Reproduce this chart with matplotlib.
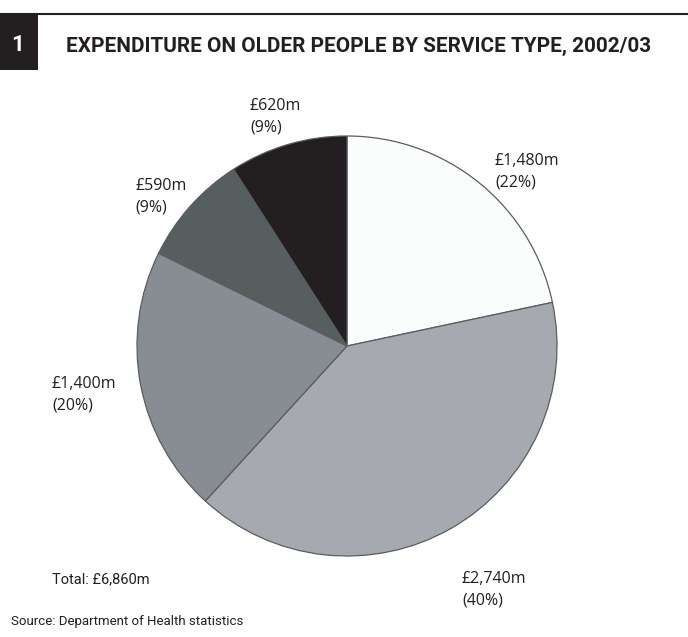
import matplotlib
matplotlib.use("Agg")
import matplotlib.pyplot as plt
from matplotlib.patches import Rectangle
from matplotlib.lines import Line2D

# Expenditure by service type, 2002/03 (£m)
amounts = [1480, 2740, 1400, 590, 620]
shares = ["22%", "40%", "20%", "9%", "9%"]
amount_labels = ["£1,480m", "£2,740m", "£1,400m", "£590m", "£620m"]
colors = ["#fbfcfc", "#a6a9b0", "#878d93", "#565e60", "#231f20"]

title = "EXPENDITURE ON OLDER PEOPLE BY SERVICE TYPE, 2002/03"
total_label = "Total: £6,860m"
source = "Source: Department of Health statistics"

W, H = 688, 637
fig = plt.figure(figsize=(W / 100, H / 100), dpi=100)
fig.patch.set_facecolor("white")
renderer = fig.canvas.get_renderer()

def fx(px):
    return px / W

def fy(py):
    return 1 - py / H

def fit_width(txt, width_px):
    """Scale a text's font size so that it spans the given pixel width."""
    w = txt.get_window_extent(renderer).width
    txt.set_fontsize(txt.get_fontsize() * width_px / w)
    return txt

narrow = ["Roboto", "DejaVu Sans"]
body = ["Open Sans", "DejaVu Sans"]
ink = "#231f20"

# header rule, number box and title
fig.add_artist(Line2D([0, 1], [fy(14), fy(14)], color=ink, lw=1.5,
                      transform=fig.transFigure))
fig.add_artist(Rectangle((0, fy(70)), fx(38), fy(14) - fy(70),
                         facecolor=ink, edgecolor="none",
                         transform=fig.transFigure))
fig.text(fx(18), fy(45), "1", color="white", fontsize=16, fontweight="bold",
         family=narrow, ha="center", va="center")
t = fig.text(fx(66), fy(46), title, color=ink, fontsize=14,
             fontweight="bold", family=narrow, ha="left", va="center")
fit_width(t, 586)

# pie
cx, cy, r = 347, 346, 210
ax = fig.add_axes([fx(cx - r), fy(cy + r), fx(2 * r), (2 * r) / H])
ax.pie(amounts, colors=colors, startangle=90, counterclock=False,
       wedgeprops=dict(edgecolor="#5a5d60", linewidth=0.9))
ax.set_xlim(-1, 1)
ax.set_ylim(-1, 1)
ax.set_aspect("equal")
ax.axis("off")

# slice labels (two lines: amount, share)
label_pos = [(495, 172), (462, 590), (52, 395), (135, 197), (250, 117)]
for (px, py), a, s in zip(label_pos, amount_labels, shares):
    fig.text(fx(px), fy(py), f"{a}\n({s})", color=ink, fontsize=11.5,
             family=body, ha="left", va="center", linespacing=1.45)

fig.text(fx(52), fy(579), total_label, color=ink, fontsize=10.5,
         family=narrow, ha="left", va="center")
fig.text(fx(11), fy(622), source, color=ink, fontsize=9.5,
         family=narrow, ha="left", va="center")

fig.savefig("out.png", dpi=100)
